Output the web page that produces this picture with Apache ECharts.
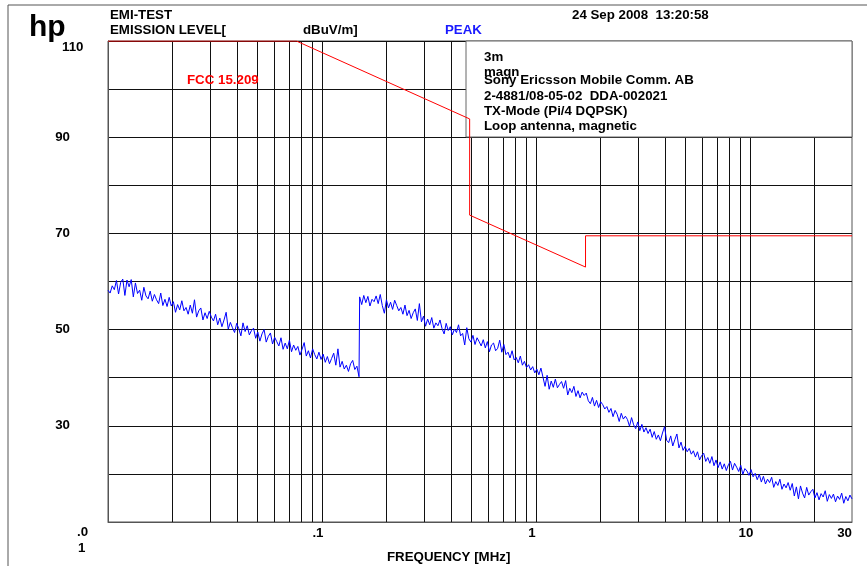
<!DOCTYPE html>
<html>
<head>
<meta charset="utf-8">
<script src="https://cdn.jsdelivr.net/npm/echarts@6/dist/echarts.min.js"></script>
<style>
  html, body { margin: 0; padding: 0; background: #fff; }
  #chart { width: 867px; height: 566px; }
</style>
</head>
<body>
<div id="chart"></div>
<script>
// FCC 15.209 limit (3m), points [MHz, dBuV/m], clipped at the 110 top
const limitPoints = [
  [0.01, 110], [0.0759, 110], [0.49, 93.8], [0.49, 73.8],
  [1.705, 63.0], [1.705, 69.5], [30, 69.5]
];

// peak sweep, band A 0.01 - 0.149 MHz (log spaced sweep points)
const sweepA = { start: 0.01, stop: 0.149 };
const levelsA = [
  58.2, 57.6, 59.1, 58.3, 60.2, 57.4, 59.8, 60.5, 57.1, 60.3,
  58.9, 60.4, 56.8, 59.7, 57.5, 58.2, 56.1, 58.8, 57.0, 56.4,
  58.0, 55.9, 57.3, 56.2, 55.4, 57.6, 55.0, 56.3, 54.8, 56.7,
  54.9, 55.8, 53.6, 55.2, 54.1, 56.0, 53.9, 54.6, 53.2, 55.1,
  53.4, 56.2, 52.6, 53.9, 54.5, 52.0, 53.5, 52.3, 53.8, 52.6,
  51.8, 53.2, 51.0, 52.4, 50.6, 52.0, 53.6, 50.1, 51.5, 50.4,
  49.4, 51.3, 50.2, 48.7, 51.4, 49.6, 50.8, 48.9, 49.8, 50.3,
  48.2, 49.5, 47.6, 49.1, 50.0, 47.4, 48.6, 49.3, 47.0, 48.4,
  47.5, 46.6, 48.3, 45.9, 47.2, 46.0, 47.8, 45.4, 46.8, 45.7,
  46.5, 44.7, 45.9, 47.3, 44.5, 45.6, 44.1, 46.0, 44.8, 43.9,
  45.3, 43.8, 44.9, 43.2, 44.4, 42.9, 44.0, 45.1, 42.6, 46.0,
  42.2, 43.4, 41.8, 42.6, 41.3, 42.9, 43.6, 41.7, 42.4, 40.2
];

// peak sweep, band B 0.15 - 30 MHz
const sweepB = { start: 0.15, stop: 30 };
const levelsB = [
  56.8, 55.2, 57.1, 55.6, 56.9, 54.9, 56.3, 55.8, 57.0, 55.4,
  57.3, 55.0, 53.4, 56.2, 54.5, 55.7, 54.2, 56.1, 55.0, 53.9,
  54.6, 53.2, 55.1, 52.9, 54.0, 52.3, 53.5, 54.3, 51.9, 55.4,
  51.6, 52.8, 50.7, 52.2, 51.0, 52.5, 50.3, 51.4, 50.8, 52.0,
  50.2, 49.1, 51.3, 49.8, 50.6, 48.9, 50.1, 49.4, 51.0, 48.7,
  49.2, 46.8, 50.4, 48.1, 47.4, 48.8, 46.9, 48.3, 47.5, 46.6,
  47.9, 46.2, 47.5, 45.4, 46.8, 47.2, 45.6, 46.1, 47.8, 45.3,
  46.9, 44.8, 45.3, 44.1, 45.6, 43.7, 44.2, 43.1, 44.5, 42.6,
  43.4, 42.1, 42.7, 41.6, 42.3, 41.0, 41.8, 40.6, 42.0, 40.1,
  38.2, 40.5, 37.6, 39.3, 38.0, 39.7, 37.9, 38.6, 39.2, 37.8,
  39.4, 36.4, 37.8, 36.9, 38.2, 36.1, 37.3, 35.8, 37.0, 36.3,
  36.8, 35.2, 34.6, 35.9, 34.1, 35.3, 33.8, 35.0, 34.4, 33.5,
  34.0, 32.8, 33.6, 31.9, 33.2, 32.4, 30.9, 32.6, 31.4, 32.0,
  31.3, 29.9, 31.7, 30.2, 29.4, 30.8, 29.0, 30.3, 28.7, 29.6,
  28.4, 29.3, 27.6, 28.8, 27.2, 28.1, 26.9, 28.5, 29.8, 27.0,
  26.5, 27.9, 25.8, 27.1, 28.3, 25.4, 26.6, 24.9, 25.7, 24.6,
  25.3, 24.1, 24.8, 23.5, 24.6, 22.9, 23.8, 24.3, 22.6, 23.4,
  22.2, 23.6, 21.7, 22.9, 21.3, 22.5, 21.0, 22.1, 20.7, 21.9,
  22.6, 20.8, 22.2, 21.4, 20.5, 21.8, 19.9, 21.1, 20.6, 19.7,
  20.9, 19.4, 20.1, 18.8, 19.9, 18.3, 19.5, 17.9, 18.9, 18.2,
  19.3, 17.2, 18.4, 17.6, 18.9, 16.8, 17.9, 17.1, 18.2, 16.6,
  18.0, 15.4, 17.3, 14.8, 17.5, 16.0, 15.0, 17.2, 15.6, 16.3,
  16.8, 15.0, 16.1, 14.6, 15.9, 15.2, 16.5, 14.3, 15.7, 14.9,
  15.8, 14.2, 15.4, 14.7, 16.0, 13.9, 15.3, 14.4, 15.6, 14.8
];

// vertical grid lines of the log paper
const gridFreqs = [
  0.02, 0.03, 0.04, 0.05, 0.06, 0.07, 0.08, 0.09, 0.1,
  0.2, 0.3, 0.4, 0.5, 0.6, 0.7, 0.8, 0.9, 1,
  2, 3, 4, 5, 6, 7, 8, 9, 10, 20
];
const yLabels = [90, 70, 50, 30];

function sweep(band, levels) {
  const n = levels.length;
  return levels.map((v, i) => [band.start * Math.pow(band.stop / band.start, i / (n - 1)), v]);
}
const peakData = sweep(sweepA, levelsA).concat(sweep(sweepB, levelsB));

const FAMILY = "'Liberation Sans', Arial, sans-serif";
const FONT = "bold 13.3px " + FAMILY;
function txt(x, y, text, color, font) {
  return {
    type: "text", x: x, y: y, z: 60,
    style: { text: text, font: font || FONT, fill: color || "#000", verticalAlign: "middle" }
  };
}

const myChart = echarts.init(document.getElementById("chart"));
myChart.setOption({
  animation: false,
  backgroundColor: "#fff",
  grid: {
    left: 108, right: 15, top: 41, bottom: 44,
    show: true, borderColor: "#555", borderWidth: 1
  },
  xAxis: {
    type: "log",
    logBase: 10,
    min: 0.01,
    max: 30,
    axisLine: { show: true, lineStyle: { color: "#555" } },
    axisTick: { show: false },
    splitLine: { show: false },
    axisLabel: {
      color: "#000",
      fontWeight: "bold",
      fontSize: 13.3,
      fontFamily: FAMILY,
      margin: 5,
      showMinLabel: false,
      showMaxLabel: true,
      alignMaxLabel: "right",
      rich: {
        s: { fontWeight: "bold", fontSize: 13.3, fontFamily: FAMILY, color: "#000", padding: [0, 8, 0, 0] }
      },
      formatter: function (v) {
        if (v < 0.05) return "";
        if (v < 1) return "{s|." + String(Math.round(v * 10)) + "}";
        if (v > 20) return String(Math.round(v));
        return "{s|" + String(Math.round(v)) + "}";
      }
    }
  },
  yAxis: {
    type: "value",
    min: 10,
    max: 110,
    interval: 10,
    axisLine: { show: true, lineStyle: { color: "#555" } },
    axisTick: { show: false },
    splitLine: { show: true, lineStyle: { color: "#111", width: 1 } },
    axisLabel: {
      color: "#000",
      fontWeight: "bold",
      fontSize: 13.3,
      fontFamily: FAMILY,
      margin: 38,
      padding: [6, 0, 0, 0],
      formatter: function (v) { return yLabels.indexOf(v) >= 0 ? String(v) : ""; }
    }
  },
  series: [
    {
      name: "grid",
      type: "line",
      data: [],
      z: 1,
      markLine: {
        silent: true,
        z: 1,
        symbol: "none",
        label: { show: false },
        lineStyle: { color: "#111", type: "solid", width: 1 },
        data: gridFreqs.map(f => ({ xAxis: f }))
      }
    },
    {
      name: "PEAK",
      type: "line",
      data: peakData,
      showSymbol: false,
      z: 70,
      lineStyle: { color: "#0000ff", width: 1 }
    },
    {
      name: "FCC 15.209",
      type: "line",
      data: limitPoints,
      showSymbol: false,
      z: 80,
      lineStyle: { color: "#ff0000", width: 1 }
    }
  ],
  graphic: [
    { type: "rect", z: 0, shape: { x: 8, y: 5, width: 880, height: 620 }, style: { fill: null, stroke: "#555", lineWidth: 1 } },
    { type: "rect", z: 50, shape: { x: 466, y: 41, width: 386, height: 96 }, style: { fill: "#fff", stroke: "#666", lineWidth: 1 } },
    txt(29, 28, "hp", "#000", "bold 30px " + FAMILY),
    txt(62, 47, "110"),
    txt(110, 15, "EMI-TEST"),
    txt(110, 30, "EMISSION LEVEL["),
    txt(303, 30, "dBuV/m]"),
    txt(445, 30, "PEAK", "#1a1aff"),
    txt(572, 15, "24 Sep 2008  13:20:58"),
    txt(484, 57, "3m"),
    txt(484, 72, "magn"),
    txt(484, 80, "Sony Ericsson Mobile Comm. AB"),
    txt(484, 96, "2-4881/08-05-02  DDA-002021"),
    txt(484, 111, "TX-Mode (Pi/4 DQPSK)"),
    txt(484, 126, "Loop antenna, magnetic"),
    txt(187, 80, "FCC 15.209", "#ff0000"),
    txt(77, 532, ".0"),
    txt(78, 548, "1"),
    txt(387, 557, "FREQUENCY [MHz]")
  ]
});
</script>
</body>
</html>
